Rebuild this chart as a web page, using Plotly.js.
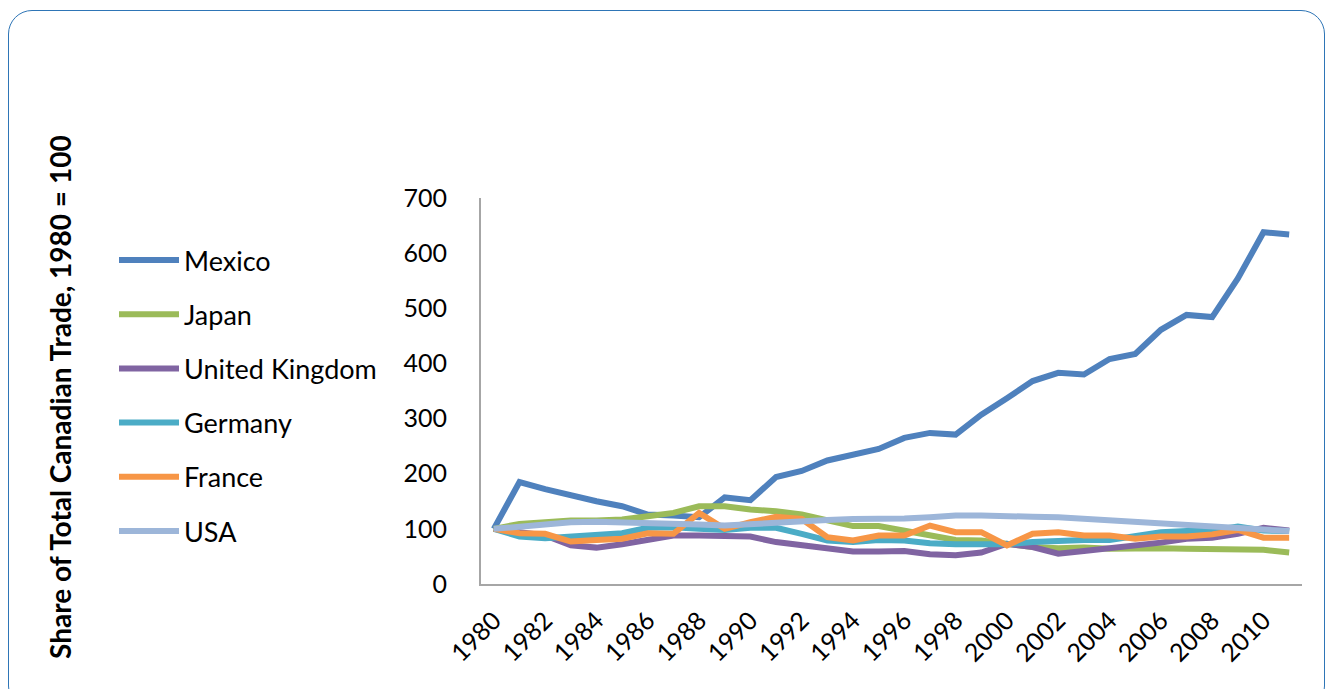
<!DOCTYPE html>
<html>
<head>
<meta charset="utf-8">
<script src="https://cdn.plot.ly/plotly-3.0.1.min.js"></script>
<style>
  html, body { margin: 0; padding: 0; background: #ffffff; width: 1333px; height: 689px; overflow: hidden; }
  #frame { position: absolute; left: 8px; top: 10px; width: 1317px; height: 700px; border: 1.5px solid #2E75B6; border-radius: 24px; box-sizing: border-box; }
  #chart { position: absolute; left: 0; top: 0; width: 1333px; height: 689px; }
</style>
</head>
<body>
<div id="frame"></div>
<div id="chart"></div>
<script>
const years = [1980,1981,1982,1983,1984,1985,1986,1987,1988,1989,1990,1991,1992,1993,1994,1995,
               1996,1997,1998,1999,2000,2001,2002,2003,2004,2005,2006,2007,2008,2009,2010,2011];
const tickYears = [1980,1982,1984,1986,1988,1990,1992,1994,1996,1998,2000,2002,2004,2006,2008,2010];

const mexico  = [100,185,172,160,150,141,126,124,121,157,152,194,205,224,234,245,
                 265,274,271,307,337,368,383,380,408,417,461,488,484,554,638,634];
const japan   = [100,109,112,115,115,117,123,129,141,141,135,132,126,115,105,105,
                 96,87,80,79,72,67,65,66,64,65,65,64,64,63,62,57];
const uk      = [100,95,88,70,66,72,80,88,88,86,86,76,70,63,59,59,
                 60,54,52,57,73,67,55,60,65,69,75,82,84,91,102,97];
const germany = [100,86,83,86,88,92,102,103,100,98,102,102,91,79,76,80,
                 79,74,72,73,72,76,79,80,80,86,94,96,97,104,97,96];
const france  = [100,92,91,77,80,82,92,91,129,100,112,122,118,85,79,88,
                 88,106,94,94,70,91,94,88,88,82,86,86,90,98,84,84];
const usa     = [100,104,108,112,113,112,112,110,108,106,109,111,113,116,118,118,
                 119,121,124,124,122,122,121,118,116,112,109,106,104,101,98,96];

const seriesNames  = ["Mexico","Japan","United Kingdom","Germany","France","USA"];
const seriesValues = [mexico, japan, uk, germany, france, usa];
const seriesColors = ["#4F81BD","#9BBB59","#8064A2","#4BACC6","#F79646","#9DB6D9"];

const yTitle = "Share of Total Canadian Trade, 1980 = 100";

const traces = seriesNames.map((name, i) => ({
  x: years, y: seriesValues[i], name: name, type: "scatter", mode: "lines",
  line: { color: seriesColors[i], width: 6, shape: "linear" },
  showlegend: false, hoverinfo: "x+y+name"
}));

// plot area in pixels
const L = 481, R = 1302, T = 198, B = 584;
const W = R - L, H = B - T;
const px2x = p => (p - L) / W;
const py2y = p => (B - p) / H;

const shapes = [];
const annotations = [];
seriesNames.forEach((name, i) => {
  const yc = 260 + i * 54.2;
  shapes.push({ type: "line", xref: "paper", yref: "paper",
    x0: px2x(119), x1: px2x(179), y0: py2y(yc), y1: py2y(yc),
    line: { color: seriesColors[i], width: 6 } });
  annotations.push({ xref: "paper", yref: "paper", x: px2x(182), y: py2y(yc),
    xanchor: "left", yanchor: "middle", showarrow: false, text: name,
    font: { family: "Lato, 'Open Sans', sans-serif", size: 27, color: "#000000" } });
});
annotations.push({ xref: "paper", yref: "paper", x: px2x(60), y: py2y(397),
  xanchor: "center", yanchor: "middle", showarrow: false, textangle: -90,
  text: "<b>" + yTitle + "</b>",
  font: { family: "Lato, 'Open Sans', sans-serif", size: 28, color: "#000000" } });

const layout = {
  width: 1333, height: 689,
  margin: { l: L, r: 1333 - R, t: T, b: 689 - B, pad: 0 },
  paper_bgcolor: "rgba(0,0,0,0)", plot_bgcolor: "rgba(0,0,0,0)",
  font: { family: "Lato, 'Open Sans', sans-serif", color: "#000000" },
  xaxis: {
    type: "linear", range: [1979.5, 2011.5],
    tickmode: "array", tickvals: tickYears, ticktext: tickYears.map(String),
    tickangle: -45, tickfont: { size: 25, color: "#000000" },
    showgrid: false, zeroline: false, showline: true, linecolor: "#A6A6A6", linewidth: 2,
    ticks: "", ticklabelstandoff: 10, fixedrange: true
  },
  yaxis: {
    range: [0, 700], tickmode: "linear", tick0: 0, dtick: 100,
    tickfont: { size: 25, color: "#000000" },
    showgrid: false, zeroline: false, showline: true, linecolor: "#A6A6A6", linewidth: 2,
    ticks: "", ticklabelstandoff: 27, fixedrange: true
  },
  shapes: shapes,
  annotations: annotations,
  showlegend: false
};

Plotly.newPlot("chart", traces, layout, { displayModeBar: false, staticPlot: true });
</script>
</body>
</html>
